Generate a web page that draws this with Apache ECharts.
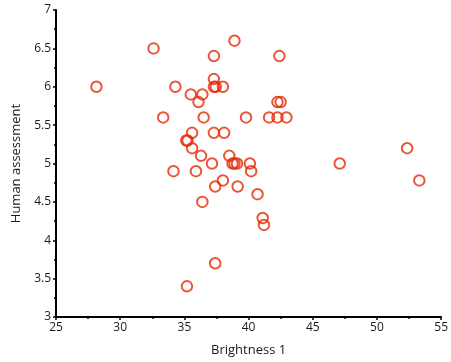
<!DOCTYPE html>
<html>
<head>
<meta charset="utf-8">
<script src="https://cdn.jsdelivr.net/npm/echarts@6/dist/echarts.min.js"></script>
<style>
  html, body { margin: 0; padding: 0; background: #fff; }
  #chart { width: 451px; height: 362px; }
</style>
</head>
<body>
<div id="chart"></div>
<script>
// Brightness measure vs. human assessment score, one point per image
const brightness = [
  28.15, 32.6, 38.9, 37.3, 42.4, 37.3, 37.3, 37.45, 38.0, 34.3,
  35.5, 36.4, 36.1, 33.35, 36.5, 39.8, 41.6, 42.25, 42.95, 42.25,
  42.5, 35.6, 37.3, 38.1, 35.15, 35.25, 35.6, 36.3, 37.15, 38.5,
  38.75, 38.9, 39.1, 40.1, 40.2, 34.15, 35.9, 38.0, 37.4, 39.15,
  36.4, 40.7, 41.1, 41.2, 37.4, 35.2, 47.1, 52.35, 53.3
];
const assessment = [
  6.0, 6.5, 6.6, 6.4, 6.4, 6.1, 6.0, 6.0, 6.0, 6.0,
  5.9, 5.9, 5.8, 5.6, 5.6, 5.6, 5.6, 5.6, 5.6, 5.8,
  5.8, 5.4, 5.4, 5.4, 5.3, 5.3, 5.2, 5.1, 5.0, 5.1,
  5.0, 5.0, 5.0, 5.0, 4.9, 4.9, 4.9, 4.78, 4.7, 4.7,
  4.5, 4.6, 4.29, 4.2, 3.7, 3.4, 5.0, 5.2, 4.78
];
const xTicks = [25, 30, 35, 40, 45, 50, 55];
const yTicks = [3, 3.5, 4, 4.5, 5, 5.5, 6, 6.5, 7];

const points = brightness.map((b, i) => [b, assessment[i]]);

const FONT = 'Open Sans';
const INK = '#1a1a1a';

const chart = echarts.init(document.getElementById('chart'), null, { renderer: 'canvas' });
chart.setOption({
  animation: false,
  backgroundColor: '#fff',
  grid: { left: 56, top: 10, right: 6, bottom: 45, containLabel: false },
  xAxis: {
    type: 'value',
    min: xTicks[0],
    max: xTicks[xTicks.length - 1],
    interval: 5,
    name: 'Brightness 1',
    nameLocation: 'middle',
    nameGap: 27,
    nameTextStyle: { fontFamily: FONT, fontSize: 13, color: INK },
    axisLine: { show: true, onZero: false, lineStyle: { color: '#000', width: 2 } },
    axisTick: { show: true, length: 3, lineStyle: { color: '#000', width: 1.5 } },
    minorTick: { show: true, splitNumber: 2, length: 2, lineStyle: { color: '#000', width: 1.5 } },
    axisLabel: { fontFamily: FONT, fontSize: 12, color: INK, margin: 5 },
    splitLine: { show: false }
  },
  yAxis: {
    type: 'value',
    min: yTicks[0],
    max: yTicks[yTicks.length - 1],
    interval: 0.5,
    name: 'Human assessment',
    nameLocation: 'middle',
    nameGap: 33,
    nameRotate: 90,
    nameTextStyle: { fontFamily: FONT, fontSize: 13, color: INK },
    axisLine: { show: true, onZero: false, lineStyle: { color: '#000', width: 2 } },
    axisTick: { show: true, length: 3, lineStyle: { color: '#000', width: 1.5 } },
    minorTick: { show: true, splitNumber: 2, length: 2, lineStyle: { color: '#000', width: 1.5 } },
    axisLabel: { fontFamily: FONT, fontSize: 12, color: INK, margin: 5 },
    splitLine: { show: false }
  },
  series: [{
    type: 'scatter',
    data: points,
    symbol: 'circle',
    symbolSize: 10.5,
    itemStyle: {
      color: 'rgba(255,255,255,0)',
      borderColor: '#e62a06',
      borderWidth: 2
    },
    emphasis: { disabled: true }
  }]
});
</script>
</body>
</html>
